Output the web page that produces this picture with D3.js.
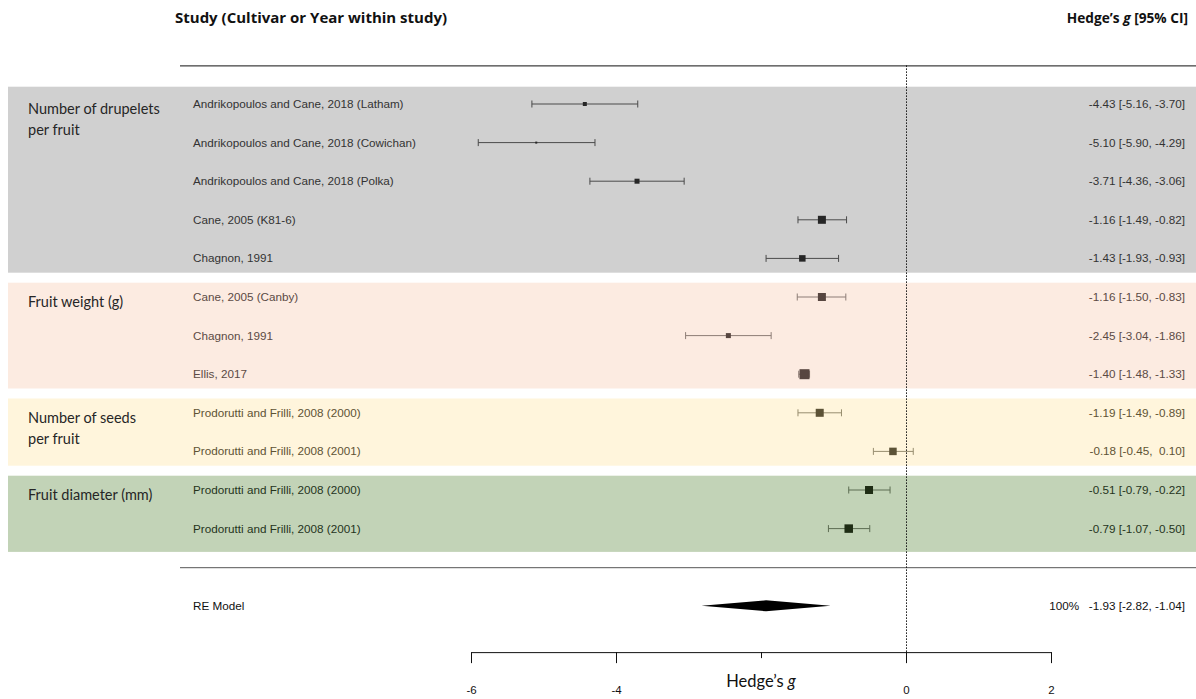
<!DOCTYPE html>
<html><head><meta charset="utf-8">
<script src="https://cdn.jsdelivr.net/npm/d3@7"></script>
<style>
html,body{margin:0;padding:0;background:#fff;}
svg{display:block;}
text{white-space:pre;}
</style></head>
<body>
<script>
// ---------------- data ----------------
const groups = ["Number of drupelets|per fruit", "Fruit weight (g)", "Number of seeds|per fruit", "Fruit diameter (mm)"];
const studies = [
  "Andrikopoulos and Cane, 2018 (Latham)",
  "Andrikopoulos and Cane, 2018 (Cowichan)",
  "Andrikopoulos and Cane, 2018 (Polka)",
  "Cane, 2005 (K81-6)",
  "Chagnon, 1991",
  "Cane, 2005 (Canby)",
  "Chagnon, 1991",
  "Ellis, 2017",
  "Prodorutti and Frilli, 2008 (2000)",
  "Prodorutti and Frilli, 2008 (2001)",
  "Prodorutti and Frilli, 2008 (2000)",
  "Prodorutti and Frilli, 2008 (2001)"
];
const groupOf = [0,0,0,0,0,1,1,1,2,2,3,3];
const estimates = [-4.43,-5.10,-3.71,-1.16,-1.43,-1.16,-2.45,-1.40,-1.19,-0.18,-0.51,-0.79];
const lower     = [-5.16,-5.90,-4.36,-1.49,-1.93,-1.50,-3.04,-1.48,-1.49,-0.45,-0.79,-1.07];
const upper     = [-3.70,-4.29,-3.06,-0.82,-0.93,-0.83,-1.86,-1.33,-0.89, 0.10,-0.22,-0.50];
const weights   = [5.5, 3.5, 6.5, 9.5, 8, 9.5, 6.5, 11.5, 9.5, 9, 9.5, 10]; // estimated relative weights (%)
const pooled = {label: "RE Model", est: -1.93, lo: -2.82, hi: -1.04, weight: "100%"};
const xTicks = [-6, -4, -2, 0, 2];
const xTickLabels = ["-6", "-4", "", "0", "2"];

// ---------------- styles ----------------
const bandFill   = ["#d0d0d0", "#fcebe1", "#fff5dc", "#c2d3b7"];
const textCol    = ["#333333", "#5b4a44", "#5e5334", "#25331c"];
const markCol    = ["#262626", "#574640", "#5c5236", "#1e2c14"];
const lineCol    = ["#4a4a4a", "#8d7d76", "#978d6f", "#5d6d53"];

const W = 1196, H = 699;
const svg = d3.select("body").append("svg").attr("width", W).attr("height", H);

const x = d3.scaleLinear().domain([-6, 2]).range([471, 1051]);
const y = d3.scaleLinear().domain([0, 13]).range([104, 605.8]);
const step = y(1) - y(0);
const size = d3.scaleLinear().domain([3.5, 11.5]).range([2, 10]);

const calibri = "Lato, 'Open Sans', sans-serif";
const calibriBold = "'Open Sans', Lato, sans-serif";
const arial = "'Liberation Sans', Arial, sans-serif";

// bands
const nG = groups.length;
for (let g = 0; g < nG; g++) {
  const idx = groupOf.map((d, i) => d === g ? i : -1).filter(i => i >= 0);
  const first = idx[0], last = idx[idx.length - 1];
  const top = g === 0 ? y(first) - step / 2 + 2 : (y(first) + y(first - 1)) / 2 + 5;
  const bot = g === nG - 1 ? y(last) + step / 2 + 4 : (y(last) + y(last + 1)) / 2 - 5;
  svg.append("rect").attr("x", 8).attr("y", top).attr("width", W - 8).attr("height", bot - top)
    .attr("fill", bandFill[g]);
  const lines = groups[g].split("|");
  lines.forEach((l, k) => {
    svg.append("text").attr("x", 28).attr("y", y(first) + 10 + k * 21)
      .attr("font-family", calibri).attr("font-size", 14.5).attr("fill", "#262626").text(l);
  });
}

// headers
svg.append("text").attr("x", 175).attr("y", 23).attr("font-family", calibriBold)
  .attr("font-weight", "bold").attr("font-size", 15).attr("fill", "#111")
  .text("Study (Cultivar or Year within study)");
const hh = svg.append("text").attr("x", 1188).attr("y", 23).attr("text-anchor", "end")
  .attr("font-family", calibriBold).attr("font-weight", "bold").attr("font-size", 13.7).attr("fill", "#111");
hh.append("tspan").text("Hedge\u2019s ");
hh.append("tspan").attr("font-style", "italic").text("g");
hh.append("tspan").text(" [95% CI]");

// horizontal rules
svg.append("line").attr("x1", 180).attr("x2", W).attr("y1", y(-1) + 0.5).attr("y2", y(-1) + 0.5)
  .attr("stroke", "#111").attr("stroke-width", 1);
svg.append("line").attr("x1", 180).attr("x2", W).attr("y1", y(12) + 0.5).attr("y2", y(12) + 0.5)
  .attr("stroke", "#555").attr("stroke-width", 1);

// zero reference line
svg.append("line").attr("x1", x(0) + 0.5).attr("x2", x(0) + 0.5).attr("y1", y(-1)).attr("y2", y(14.2))
  .attr("stroke", "#111").attr("stroke-width", 1).attr("stroke-dasharray", "1.5,1.5");

// studies
const f2 = d3.format(".2f");
const fmt = v => f2(v).replace("\u2212", "-");
const pad = v => (v >= 0 ? " " : "") + fmt(v);
studies.forEach((s, i) => {
  const g = groupOf[i], yy = y(i);
  svg.append("text").attr("x", 193).attr("y", yy + 4).attr("font-family", arial).attr("font-size", 11.7)
    .attr("fill", textCol[g]).text(s);
  svg.append("text").attr("x", 1185).attr("y", yy + 4).attr("text-anchor", "end").attr("font-family", arial)
    .attr("font-size", 11.7).attr("fill", textCol[g])
    .text(`${fmt(estimates[i])} [${fmt(lower[i])}, ${pad(upper[i])}]`);
  svg.append("line").attr("x1", x(lower[i])).attr("x2", x(upper[i])).attr("y1", yy).attr("y2", yy)
    .attr("stroke", lineCol[g]).attr("stroke-width", 1);
  [lower[i], upper[i]].forEach(v => {
    svg.append("line").attr("x1", x(v)).attr("x2", x(v)).attr("y1", yy - 3.5).attr("y2", yy + 3.5)
      .attr("stroke", lineCol[g]).attr("stroke-width", 1);
  });
  const s2 = size(weights[i]);
  svg.append("rect").attr("x", x(estimates[i]) - s2 / 2).attr("y", yy - s2 / 2)
    .attr("width", s2).attr("height", s2).attr("fill", markCol[g]);
});

// pooled
const yp = y(13);
svg.append("text").attr("x", 193).attr("y", yp + 4).attr("font-family", arial).attr("font-size", 11.7)
  .attr("fill", "#111").text(pooled.label);
svg.append("text").attr("x", 1185).attr("y", yp + 4).attr("text-anchor", "end").attr("font-family", arial)
  .attr("font-size", 11.7).attr("fill", "#111")
  .text(`${pooled.weight}   ${fmt(pooled.est)} [${fmt(pooled.lo)}, ${fmt(pooled.hi)}]`);
svg.append("polygon")
  .attr("points", [[x(pooled.lo), yp], [x(pooled.est), yp - 5.5], [x(pooled.hi), yp], [x(pooled.est), yp + 5.5]].map(p => p.join(",")).join(" "))
  .attr("fill", "#000");

// axis
const ay = y(14.2);
const axis = svg.append("g").attr("transform", `translate(0,${ay})`)
  .call(d3.axisBottom(x).tickValues(xTicks).tickSizeOuter(0).tickSizeInner(11)
    .tickFormat((d, i) => xTickLabels[i]));
axis.select(".domain").attr("stroke", "#111");
axis.selectAll(".tick line").attr("stroke", "#111")
  .attr("y2", (d) => d === -2 ? 6 : 11);
axis.selectAll(".tick text").attr("font-family", arial).attr("font-size", 11.5).attr("fill", "#111")
  .attr("dy", 0).attr("y", 42);
const xl = svg.append("text").attr("x", x(-2)).attr("y", ay + 35).attr("text-anchor", "middle")
  .attr("font-family", calibri).attr("font-size", 16.5).attr("fill", "#111");
xl.append("tspan").text("Hedge\u2019s ");
xl.append("tspan").attr("font-style", "italic").text("g");
</script>
</body></html>
